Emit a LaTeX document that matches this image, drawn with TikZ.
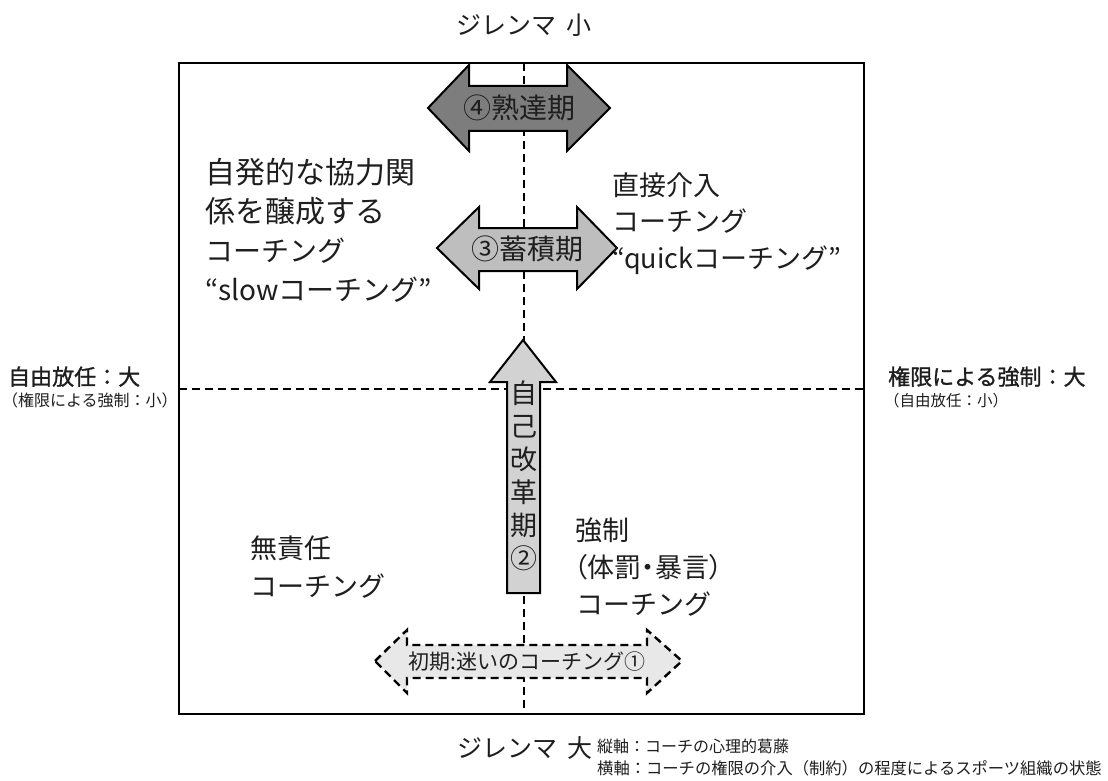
\documentclass[tikz,border=0pt]{standalone}
\usepackage{fontspec}
\setmainfont{Noto Sans CJK JP}
\newfontfamily\semibold{Noto Sans CJK JP}[FakeBold=1.2]
\newfontfamily\propfont{Noto Sans CJK JP}[RawFeature=+palt]
\definecolor{txt}{HTML}{1E1E1E}
\definecolor{darkfill}{HTML}{7D7D7D}
\definecolor{midfill}{HTML}{BEBEBE}
\definecolor{lightfill}{HTML}{D2D2D2}
\definecolor{palefill}{HTML}{E8E8E8}
\tikzset{
  frame/.style={line width=2.4pt, draw=black},
  axis/.style={line width=2.2pt, draw=black, dash pattern=on 8pt off 5pt},
  arrowshape/.style={line width=2pt, draw=black, line join=miter},
  dasharrow/.style={line width=2.4pt, draw=black, dash pattern=on 8pt off 5pt, fill=palefill},
  lbl/.style={inner sep=0pt, text=txt, anchor=base west, font=\fontsize{27}{30}\selectfont},
  lblbig/.style={lbl, font=\fontsize{30}{32}\selectfont},
  lblmid/.style={lbl, font=\fontsize{28}{32}\selectfont},
  ctr/.style={inner sep=0pt, text=txt, font=\fontsize{28}{30}\selectfont},
  side/.style={inner sep=0pt, text=txt, anchor=base west},
}
\begin{document}
\begin{tikzpicture}[x=1pt,y=-1pt]
\useasboundingbox (0,0) rectangle (1108,781);
% axes
\coordinate (vt) at (524,63);
\coordinate (vb) at (524,714);
\coordinate (hl) at (179,389);
\coordinate (hr) at (864,389);
\draw[axis] (vt) -- (vb);
\draw[axis] (hl) -- (hr);
\draw[frame] (179,63) rectangle (864,714);
% (4) mature
\draw[arrowshape, fill=darkfill] (428,108) -- (469,65) -- (469,86) -- (567,86) -- (567,65) -- (610,108)
  -- (567,151) -- (567,131) -- (469,131) -- (469,151) -- cycle;
\node[ctr] (a4) at (519,108) {④熟達期};
% (3) accumulation
\draw[arrowshape, fill=midfill] (437,248) -- (479,207) -- (479,228) -- (577,228) -- (577,207) -- (617,248)
  -- (577,289) -- (577,271) -- (479,271) -- (479,289) -- cycle;
\node[ctr] (a3) at (527,249) {③蓄積期};
% (2) self reform
\draw[arrowshape, fill=lightfill] (523,340) -- (556,382) -- (540,382) -- (540,593) -- (507,593) -- (507,382)
  -- (490,382) -- cycle;
\node[ctr, font=\fontsize{27}{33}\selectfont, align=center] (a2) at (524,476) {自\\己\\改\\革\\期\\②};
% (1) initial
\draw[dasharrow] (375,661) -- (407,630) -- (407,645) -- (647,645) -- (647,630) -- (682,661)
  -- (647,693) -- (647,678) -- (407,678) -- (407,693) -- cycle;
\node[ctr, font=\fontsize{21}{24}\selectfont] (a1) at (527,662) {初期:迷いのコーチング①};
% top / bottom labels
\node[ctr, font=\fontsize{25}{28}\selectfont] (top) at (524,25) {ジレンマ\hspace{10pt}小};
\node[ctr, font=\fontsize{25}{28}\selectfont] (bot) at (525,748) {ジレンマ\hspace{10pt}大};
\node[side, font=\fontsize{16}{18}\selectfont] (n1) at (597,752) {縦軸：コーチの心理的葛藤};
\node[side, font=\fontsize{16.3}{18}\selectfont] (n2) at (597,774) {横軸：コーチの権限の介入（制約）の程度によるスポーツ組織の状態};
% side labels
\node[side, font=\fontsize{22}{24}\semibold] (lb) at (8,385) {自由放任：大};
\node[side, font=\fontsize{16}{18}\selectfont] (ls) at (2,406) {（権限による強制：小）};
\node[side, font=\fontsize{22}{24}\semibold] (rb) at (888,385) {権限による強制：大};
\node[side, font=\fontsize{15.5}{18}\selectfont] (rs) at (884,406) {（自由放任：小）};
% quadrant texts
\node[lblbig] (q1a) at (205,183) {自発的な協力関};
\node[lblbig] (q1b) at (205,222) {係を醸成する};
\node[lblmid] (q1c) at (205,261) {コーチング};
\node[lblmid] (q1d) at (205,300) {“slowコーチング”};
\node[lbl] (q2a) at (612,195) {直接介入};
\node[lbl] (q2b) at (612,231) {コーチング};
\node[lbl] (q2c) at (612,268) {“quickコーチング”};
\node[lbl] (q3a) at (250,558) {無責任};
\node[lbl] (q3b) at (250,596) {コーチング};
\node[lbl] (q4a) at (575,540) {強制};
\node[lbl, font=\fontsize{27}{30}\propfont] (q4b) at (574,577) {（体罰・暴言）};
\node[lbl] (q4c) at (576,614) {コーチング};
\end{tikzpicture}
\end{document}
